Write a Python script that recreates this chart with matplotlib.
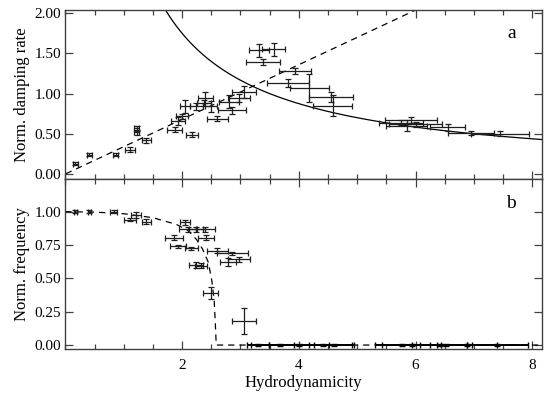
import numpy as np
import matplotlib
matplotlib.use('Agg')
import matplotlib.pyplot as plt
from matplotlib.ticker import MultipleLocator, FormatStrFormatter

plt.rcParams['font.family'] = ['Liberation Serif', 'DejaVu Serif']
plt.rcParams['mathtext.fontset'] = 'stix'

###############################################################################
# Data
###############################################################################
# panel a: damping rate
dampX = [0.17, 0.41, 0.86, 1.11, 1.22, 1.22, 1.39, 1.87, 2.17, 1.93,
         2.00, 2.05, 2.24, 2.40, 2.37, 2.49, 2.60, 2.86, 2.80, 2.97,
         3.06, 3.32, 3.57, 3.39, 3.93, 3.82, 4.18, 4.55, 4.58,
         5.75, 5.85, 5.92, 6.00, 6.55, 6.95, 7.45]
dampY = [0.13, 0.24, 0.24, 0.30, 0.57, 0.52, 0.42, 0.55, 0.49, 0.66,
         0.72, 0.84, 0.84, 0.95, 0.88, 0.84, 0.69, 0.79, 0.90, 0.94,
         1.02, 1.54, 1.55, 1.39, 1.28, 1.13, 1.07, 0.96, 0.85,
         0.64, 0.60, 0.67, 0.62, 0.58, 0.51, 0.50]
dampXerr = [0.04, 0.04, 0.05, 0.08, 0.05, 0.05, 0.08, 0.13, 0.11, 0.12,
            0.10, 0.08, 0.11, 0.13, 0.12, 0.10, 0.18, 0.24, 0.17, 0.19,
            0.20, 0.17, 0.20, 0.29, 0.27, 0.36, 0.33, 0.38, 0.33,
            0.38, 0.35, 0.45, 0.45, 0.30, 0.40, 0.50]
dampYerr = [0.02, 0.02, 0.02, 0.03, 0.03, 0.03, 0.03, 0.03, 0.03, 0.05,
            0.03, 0.08, 0.04, 0.07, 0.04, 0.07, 0.03, 0.04, 0.08, 0.05,
            0.07, 0.08, 0.08, 0.04, 0.04, 0.05, 0.18, 0.06, 0.13,
            0.03, 0.07, 0.04, 0.03, 0.04, 0.03, 0.03]

# panel b: frequency (oscillating cases)
freqX = [0.17, 0.41, 0.83, 1.11, 1.21, 1.39, 2.05, 1.86, 1.93, 2.16,
         2.10, 2.23, 2.40, 2.41, 2.23, 2.32, 2.49, 2.60, 2.86, 2.79,
         2.97, 3.06]
freqY = [1.00, 1.00, 1.00, 0.94, 0.975, 0.925, 0.92, 0.805, 0.74, 0.725,
         0.868, 0.868, 0.868, 0.805, 0.60, 0.595, 0.39, 0.707, 0.688, 0.625,
         0.643, 0.18]
freqXerr = [0.03, 0.03, 0.06, 0.10, 0.09, 0.07, 0.09, 0.15, 0.13, 0.11,
            0.16, 0.12, 0.16, 0.13, 0.12, 0.10, 0.13, 0.18, 0.27, 0.14,
            0.19, 0.21]
freqYerr = [0.01, 0.01, 0.01, 0.01, 0.02, 0.02, 0.02, 0.02, 0.01, 0.01,
            0.02, 0.02, 0.02, 0.02, 0.02, 0.02, 0.045, 0.02, 0.01, 0.03,
            0.02, 0.095]
# panel b: overdamped cases (zero frequency)
zeroX = [3.30, 3.68, 4.00, 4.41, 4.60, 5.77, 5.93, 6.41, 6.52, 6.88, 7.40]
zeroY = [0.0, 0.0, 0.0, 0.0, 0.0, 0.0, 0.0, 0.0, 0.0, 0.0, 0.0]
zeroXerr = [0.19, 0.50, 0.52, 0.50, 0.34, 0.47, 0.50, 0.47, 0.45, 0.52, 0.52]
zeroYerr = [0.01, 0.01, 0.01, 0.01, 0.01, 0.01, 0.01, 0.01, 0.01, 0.01, 0.01]

# model curves
rateSlope = 0.34      # dashed line in a
rateConst = 3.5       # solid 1/x curve in a
modelFx = [0.0, 0.5, 1.0, 1.5, 1.9, 2.1, 2.25, 2.35, 2.45, 2.51, 2.55, 2.57, 2.585, 8.2]
modelFy = [1.0, 0.997, 0.985, 0.955, 0.905, 0.86, 0.79, 0.72, 0.62, 0.48, 0.33, 0.15, 0.0, 0.0]

xTicks = [2, 4, 6, 8]
###############################################################################
# Style
###############################################################################
ebColor = '0.12'
spColor = '0.25'
dash = (0, (5, 4))
XLIM = (0.0, 8.17)

fig = plt.figure(figsize=(5.56, 3.96), dpi=100)
axA = fig.add_axes([0.1175, 0.5472, 0.8579, 0.4275])
axB = fig.add_axes([0.1175, 0.1179, 0.8579, 0.4293])


def style(ax):
    ax.set_xlim(*XLIM)
    ax.xaxis.set_major_locator(plt.FixedLocator(xTicks))
    ax.xaxis.set_minor_locator(MultipleLocator(0.5))
    ax.tick_params(which='both', direction='in', top=True, right=True,
                   labelsize=11, color=spColor, width=0.9)
    ax.tick_params(which='major', length=6, pad=3)
    ax.tick_params(which='minor', length=3.5)
    ax.tick_params(axis='x', which='major', pad=7)
    for s in ax.spines.values():
        s.set_color(spColor)
        s.set_linewidth(1.0)


###############################################################################
# Panel a
###############################################################################
xx = np.linspace(0.01, 8.2, 400)
axA.plot(xx, rateSlope*xx, color='k', lw=0.9, ls=dash)
axA.plot(xx, rateConst/xx, color='k', lw=0.9)
axA.errorbar(dampX, dampY, xerr=dampXerr, yerr=dampYerr, fmt='none',
             ecolor=ebColor, elinewidth=0.9, capsize=2.3, capthick=0.9)
style(axA)
axA.set_ylim(-0.066, 2.04)
axA.yaxis.set_major_locator(MultipleLocator(0.5))
axA.yaxis.set_major_formatter(FormatStrFormatter('%.2f'))
axA.tick_params(axis='x', labelbottom=False)
axA.set_ylabel('Norm. damping rate', fontsize=12, labelpad=3)
axA.text(0.935, 0.86, 'a', transform=axA.transAxes, fontsize=14,
         ha='center', va='center')

###############################################################################
# Panel b
###############################################################################
axB.plot(modelFx, modelFy, color='k', lw=0.9, ls=dash)
axB.errorbar(freqX, freqY, xerr=freqXerr, yerr=freqYerr, fmt='none',
             ecolor=ebColor, elinewidth=0.9, capsize=2.3, capthick=0.9)
axB.errorbar(zeroX, zeroY, xerr=zeroXerr, yerr=zeroYerr, fmt='none',
             ecolor='k', elinewidth=1.4, capsize=2.3, capthick=1.0, zorder=4)
style(axB)
axB.set_ylim(-0.032, 1.243)
axB.yaxis.set_major_locator(MultipleLocator(0.25))
axB.yaxis.set_major_formatter(FormatStrFormatter('%.2f'))
axB.set_ylabel('Norm. frequency', fontsize=12, labelpad=3)
axB.set_xlabel('Hydrodynamicity', fontsize=12, labelpad=2)
axB.text(0.935, 0.86, 'b', transform=axB.transAxes, fontsize=14,
         ha='center', va='center')

fig.savefig('out.png', dpi=100, facecolor='white')
plt.close('all')
